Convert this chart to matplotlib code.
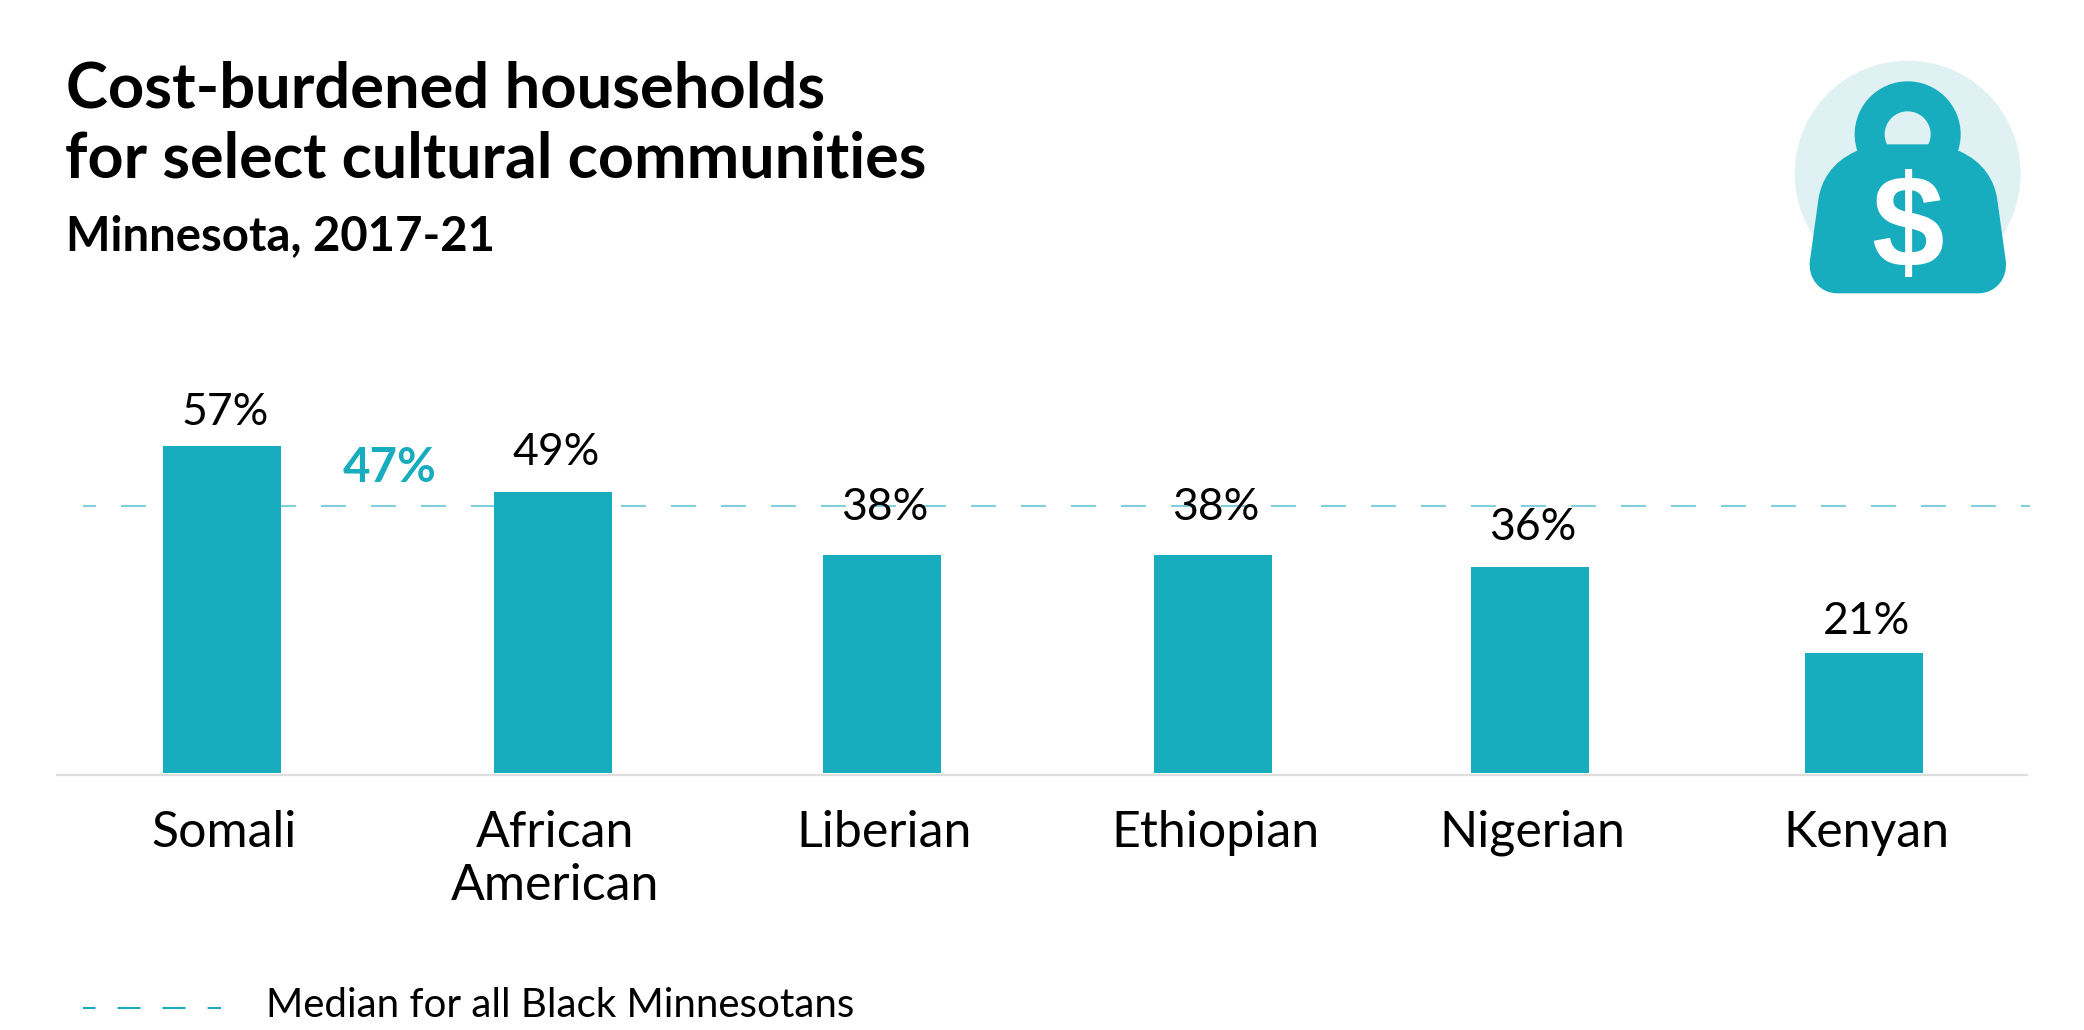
import numpy as np
import matplotlib
matplotlib.use("Agg")
import matplotlib.pyplot as plt
from matplotlib.patches import Circle, PathPatch
from matplotlib.path import Path

# data
categories = ["Somali", "African\nAmerican", "Liberian", "Ethiopian", "Nigerian", "Kenyan"]
values = [57, 49, 38, 38, 36, 21]
median_value = 47
# the dashed line is drawn a bit under the rounded label in the original
median_line = 46.5

TEAL = "#17ADBF"
W, H = 2084, 1030

plt.rcParams["font.family"] = ["Lato", "DejaVu Sans"]

fig = plt.figure(figsize=(W / 100, H / 100), dpi=100, facecolor="white")

# main axes, placed by pixels
left, right, top, bottom = 57, 2027, 397, 775
ax = fig.add_axes([left / W, 1 - bottom / H, (right - left) / W, (bottom - top) / H])
ax.set_xlim(-0.5106, 5.477)
ax.set_ylim(-0.35, 65.6)

# bars are not quite evenly spaced in the original, nudge is in pixels
bar_nudge = np.array([-3, -1, -1, 1, -11, -6])
x = np.arange(len(values)) + bar_nudge / 329
ax.bar(x, values, width=0.359, color=TEAL, zorder=3)

# median line sits behind the bars, it runs a little past the axis line
ax.axhline(median_line, xmin=(83 - left) / (right - left), xmax=(2030 - left) / (right - left),
           color="#7FD0DA", lw=1.5, linestyle=(5.8, (12, 12)), zorder=1, clip_on=False)
ax.text(0.5, median_value + 2.4, f"{median_value}%", color=TEAL, fontsize=34,
        fontweight="bold", ha="center", va="bottom")

# per-label gap above the bar, in pixels
label_gap = [21, 27, 35, 35, 27, 19]
for xi, v, gap in zip(x, values, label_gap):
    ax.annotate(f"{v}%", (xi, v), xytext=(2, gap * 0.72), textcoords="offset points",
                ha="center", va="baseline", fontsize=32, color="black")

ax.set_xticks(x + 2 / 329)
ax.set_xticklabels(categories, fontsize=36, color="black", linespacing=1.2)
ax.tick_params(axis="x", length=0, pad=25)
ax.set_yticks([])
for s in ["top", "left", "right"]:
    ax.spines[s].set_visible(False)
ax.spines["bottom"].set_color("#DDDDDD")
ax.spines["bottom"].set_linewidth(1.6)

# overlay in pixel coords for headings, legend and icon
ov = fig.add_axes([0, 0, 1, 1], zorder=5)
ov.set_xlim(0, W)
ov.set_ylim(H, 0)
ov.axis("off")

ov.text(66, 107, "Cost-burdened households", fontsize=45.5, fontweight="bold", color="black", va="baseline")
ov.text(65, 177, "for select cultural communities", fontsize=45.2, fontweight="bold", color="black", va="baseline")
ov.text(66, 250, "Minnesota, 2017-21", fontsize=34, fontweight="bold", color="black", va="baseline")

# legend
ov.plot([83, 221], [1008, 1008], color=TEAL, lw=1.5, linestyle=(5, (11, 10.6)))
ov.text(266, 1017, "Median for all Black Minnesotans", fontsize=29, color="black", va="baseline")

# icon
def ic(px, py):
    return (1750 + px / 3, 40 + py / 3)

ov.add_patch(Circle(ic(473, 401), 113, color="#DFF1F3", lw=0))

cx, cy = ic(473, 283)
ov.add_patch(Circle((cx, cy), 53, color=TEAL, lw=0))
# hole of the handle, flat on the bottom
ov.add_patch(Circle((cx, cy), 23, color="#DFF1F3", lw=0))

body = [
    (Path.MOVETO, (320, 333)),
    (Path.CURVE4, (245, 365)), (Path.CURVE4, (212, 425)), (Path.CURVE4, (205, 480)),
    (Path.LINETO, (180, 660)),
    (Path.CURVE4, (172, 715)), (Path.CURVE4, (210, 760)), (Path.CURVE4, (262, 760)),
    (Path.LINETO, (685, 760)),
    (Path.CURVE4, (737, 760)), (Path.CURVE4, (775, 715)), (Path.CURVE4, (767, 660)),
    (Path.LINETO, (742, 480)),
    (Path.CURVE4, (735, 425)), (Path.CURVE4, (702, 365)), (Path.CURVE4, (627, 333)),
    (Path.LINETO, (560, 313)),
    (Path.LINETO, (385, 313)),
    (Path.CLOSEPOLY, (320, 333)),
]
codes = [c for c, _ in body]
verts = [ic(*p) for _, p in body]
ov.add_patch(PathPatch(Path(verts, codes), facecolor=TEAL, edgecolor="none", zorder=3))
ov.text(*ic(473, 578), "$", color="white", fontsize=94, fontweight="bold", family="Liberation Sans",
        ha="center", va="center", zorder=4)

fig.savefig("out.png", dpi=100)
